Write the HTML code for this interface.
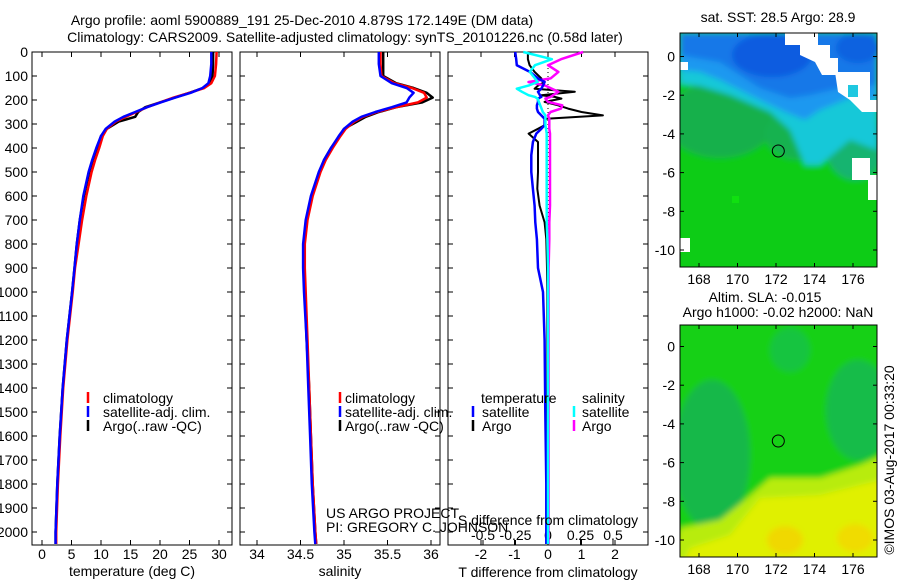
<!DOCTYPE html>
<html><head><meta charset="utf-8"><style>
html,body{margin:0;padding:0;background:#fff;}
svg{display:block;font-family:"Liberation Sans",sans-serif;}
text{font-size:14px;fill:#000;}
</style></head><body>
<svg id="fig" width="900" height="580" viewBox="0 0 900 580" xmlns="http://www.w3.org/2000/svg">
<defs>
<filter id="blur" x="-10%" y="-10%" width="120%" height="120%"><feGaussianBlur stdDeviation="3"/></filter>
<clipPath id="clipTop"><rect x="680" y="33" width="197" height="234"/></clipPath>
<clipPath id="clipBot"><rect x="680" y="325" width="197" height="232"/></clipPath>
</defs>
<text x="302" y="25" text-anchor="middle">Argo profile: aoml 5900889_191 25-Dec-2010 4.879S 172.149E (DM data)</text>
<text x="345" y="42" text-anchor="middle">Climatology: CARS2009. Satellite-adjusted climatology: synTS_20101226.nc (0.58d later)</text>

<g clip-path="url(#clipTop)">
<g filter="url(#blur)">
<rect x="670" y="25" width="220" height="250" fill="#10cc18"/>
<ellipse cx="720" cy="120" rx="55" ry="38" fill="#14b04c"/>
<ellipse cx="800" cy="135" rx="35" ry="25" fill="#14b250"/>
<ellipse cx="855" cy="145" rx="30" ry="35" fill="#14b470"/>
<polygon points="680,33 877,33 877,150 850,140 820,165 805,165 790,130 770,112 730,95 700,86 680,84" fill="#18c8d8"/>
<polygon points="680,33 877,33 877,100 850,98 820,110 805,120 785,112 760,100 720,80 700,72 680,70" fill="#1a98f0"/>
<polygon points="680,33 877,33 877,85 840,88 810,95 790,98 760,88 720,62 680,55" fill="#1478e8"/>
<ellipse cx="772" cy="55" rx="40" ry="22" fill="#0c5ce0"/>
<ellipse cx="858" cy="48" rx="22" ry="15" fill="#0c62e0"/>
</g>
<rect x="680" y="62" width="8" height="8" fill="#fff"/>
<polygon points="785,33 818,33 818,45 830,45 830,58 838,58 838,75 822,75 815,62 800,55 800,45 785,45" fill="#fff"/>
<polygon points="835,72 870,72 870,100 877,100 877,112 862,112 850,100 838,92" fill="#fff"/>
<rect x="848" y="85" width="10" height="12" fill="#20c8e0"/>
<polygon points="852,158 870,158 870,175 877,175 877,200 868,200 868,180 852,180" fill="#fff"/>
<rect x="680" y="238" width="10" height="14" fill="#fff"/>
<rect x="732" y="196" width="7" height="7" fill="#10e010"/>
</g>
<rect x="680" y="33" width="197" height="234" fill="none" stroke="#000"/>
<circle cx="778.3" cy="151" r="6" fill="none" stroke="#000"/>
<text x="778" y="22" text-anchor="middle">sat. SST: 28.5 Argo: 28.9</text>

<g clip-path="url(#clipBot)">
<g filter="url(#blur)">
<rect x="670" y="315" width="220" height="250" fill="#18d018"/>
<ellipse cx="712" cy="455" rx="38" ry="75" fill="#18b84a"/>
<ellipse cx="858" cy="410" rx="32" ry="50" fill="#18bc48"/>
<ellipse cx="790" cy="350" rx="20" ry="22" fill="#18c440"/>
<polygon points="680,528 720,520 745,500 770,478 820,478 860,465 890,452 890,570 670,570" fill="#b8ec10"/>
<polygon points="690,548 730,535 760,498 820,495 860,485 890,478 890,570 680,570" fill="#e0f000"/>
<ellipse cx="785" cy="540" rx="18" ry="14" fill="#f0d800"/>
<ellipse cx="855" cy="538" rx="18" ry="14" fill="#f0dc00"/>
</g>
</g>
<rect x="680" y="325" width="197" height="232" fill="none" stroke="#000"/>
<circle cx="778.3" cy="441" r="6" fill="none" stroke="#000"/>
<text x="765" y="302" text-anchor="middle">Altim. SLA: -0.015</text>
<text x="778" y="317" text-anchor="middle">Argo h1000: -0.02 h2000: NaN</text>
<text transform="translate(894,460) rotate(-90)" text-anchor="middle">©IMOS 03-Aug-2017 00:33:20</text>

<g id="plots"></g>
<g id="maps"></g>
</svg>
<script>
const depth = [0,50,100,130,150,170,190,210,230,250,270,290,320,350,400,450,500,600,700,800,900,1000,1200,1400,1600,1800,2000,2050];
const tempArgo = [29.0,29.0,28.9,28.5,27.3,25.0,22.5,20.0,17.5,16.3,15.8,13.0,11.0,10.0,9.4,8.6,8.0,7.1,6.4,5.9,5.5,5.1,4.2,3.5,3.0,2.6,2.3,2.3];
const tempClim = [29.6,29.5,29.3,28.7,27.5,25.0,22.3,20.0,17.8,16.0,14.2,12.5,11.0,10.3,9.7,9.0,8.4,7.5,6.8,6.2,5.6,5.2,4.3,3.6,3.1,2.7,2.4,2.4];
const tempSat = [28.7,28.7,28.5,28.2,27.2,25.2,22.6,20.1,17.8,15.8,13.8,12.3,10.8,10.0,9.2,8.5,7.9,7.0,6.4,5.9,5.5,5.1,4.2,3.5,3.0,2.6,2.3,2.3];
const salArgo = [35.45,35.45,35.45,35.6,35.8,35.95,36.02,35.9,35.6,35.4,35.25,35.15,35.0,34.95,34.85,34.77,34.72,34.63,34.57,34.54,34.54,34.55,34.57,34.6,34.62,34.64,34.67,34.68];
const salClim = [35.42,35.42,35.43,35.58,35.78,35.92,35.95,35.85,35.6,35.38,35.22,35.12,35.02,34.96,34.87,34.79,34.73,34.64,34.58,34.55,34.55,34.56,34.58,34.6,34.62,34.64,34.67,34.68];
const salSat = [35.40,35.40,35.42,35.55,35.72,35.8,35.75,35.72,35.55,35.36,35.2,35.1,35.0,34.94,34.85,34.77,34.71,34.62,34.56,34.53,34.53,34.54,34.57,34.59,34.61,34.63,34.66,34.67];
const dDepth = [0,30,55,83,110,125,140,153,166,180,187,194,208,222,236,250,264,278,292,305,320,340,375,430,500,570,640,710,780,900,1000,1200,1500,1800,2000,2050];
const dTsat = [-0.98,-0.95,-0.93,-0.54,-0.3,-0.1,-0.15,-0.2,-0.3,-0.24,-0.2,-0.3,-0.3,-0.33,-0.33,-0.3,-0.2,-0.1,-0.1,-0.1,-0.2,-0.35,-0.45,-0.5,-0.5,-0.45,-0.4,-0.38,-0.33,-0.3,-0.15,-0.1,-0.08,-0.05,-0.05,-0.05];
const dTargo = [-0.6,-0.6,-0.55,-0.4,-0.2,-0.1,-0.3,-0.4,0.8,-0.2,0.2,0.4,-0.1,0.3,0.6,1.0,1.64,-0.05,-0.1,-0.1,-0.3,-0.58,-0.3,-0.3,-0.3,-0.32,-0.25,-0.1,-0.05,-0.03,-0.02,-0.02,-0.02,-0.02,-0.02,-0.02];
const dSsat = [-0.19,0.03,-0.1,-0.14,-0.1,-0.08,-0.15,-0.24,-0.2,-0.15,-0.1,-0.08,-0.07,-0.06,-0.05,-0.04,-0.02,-0.02,-0.02,-0.02,-0.015,-0.01,-0.01,-0.01,-0.01,-0.01,-0.01,-0.01,-0.005,0,0,0,0,0,0,0];
const dSargo = [0.27,0.1,0.0,0.08,0.02,-0.15,-0.02,0.03,0.08,0.04,0.02,-0.02,0.0,0.11,0.1,0.02,0.0,0.01,0.01,0.01,0.01,0.015,0.015,0.015,0.015,0.015,0.015,0.01,0.01,0.005,0.005,0.005,0.005,0.005,0.005,0.005];
const depthTicks = [0,100,200,300,400,500,600,700,800,900,1000,1100,1200,1300,1400,1500,1600,1700,1800,1900,2000];
const tempTicks = [0,5,10,15,20,25,30];
const salTicks = [34,34.5,35,35.5,36];
const salTickLabels = ["34","34.5","35","35.5","36"];
const dTTicks = [-2,-1,0,1,2];
const dSTicks = [-0.5,-0.25,0,0.25,0.5];
const dSTickLabels = ["-0.5","-0.25","0","0.25","0.5"];
const lonTicks = [168,170,172,174,176];
const latTicks = [0,-2,-4,-6,-8,-10];

const NS='http://www.w3.org/2000/svg';
const g=document.getElementById('plots');
function el(tag,attrs,parent){const e=document.createElementNS(NS,tag);for(const k in attrs)e.setAttribute(k,attrs[k]);(parent||g).appendChild(e);return e;}
function txt(x,y,s,anchor,parent){const t=el('text',{x:x,y:y,'text-anchor':anchor||'start'},parent);t.textContent=s;return t;}
const yD=d=>52+d*0.24;
const xT=t=>42+t*5.9;
const xS=s=>257+(s-34)*87;
const xDT=v=>548+v*33.5;
const xDS=v=>548+v*130;
const Y0=52,Y1=545;

function frame(x0,x1,name){
  const r=el('rect',{x:x0,y:Y0,width:x1-x0,height:Y1-Y0,fill:'none',stroke:'#000'});
  
  
  depthTicks.forEach(d=>{el('line',{x1:x0,x2:x0+5,y1:yD(d),y2:yD(d),stroke:'#000'});el('line',{x1:x1,x2:x1-5,y1:yD(d),y2:yD(d),stroke:'#000'});});
}
function line(xs,ds,fx,color,w,name){
  const pts=xs.map((v,i)=>fx(v).toFixed(1)+','+yD(ds[i]).toFixed(1)).join(' ');
  const p=el('polyline',{points:pts,fill:'none',stroke:color,'stroke-width':w,'stroke-linejoin':'round'});
  
  
}
function xticks(ticks,labels,fx,ty,name){
  ticks.forEach((t,i)=>{const x=fx(t);el('line',{x1:x,x2:x,y1:Y1,y2:Y1-5,stroke:'#000'});el('line',{x1:x,x2:x,y1:Y0,y2:Y0+5,stroke:'#000'});
    const tt=txt(x,ty,labels[i],'middle');
    
    });
}
function legendBar(x,y,color){el('line',{x1:x,x2:x,y1:y-11,y2:y,stroke:color,'stroke-width':2.5});}

// panel 1
frame(32,232,'temperature-axes');
depthTicks.forEach(d=>{const t=txt(28,yD(d)+5,String(d),'end');
  
  });
xticks(tempTicks,tempTicks.map(String),xT,559,'temperature-tick-label');
line(tempArgo,depth,xT,'#000',2.5,'temperature-argo-line');
line(tempClim,depth,xT,'#f00',2.5,'temperature-climatology-line');
line(tempSat,depth,xT,'#00f',2.5,'temperature-satellite-line');
let t1=txt(132,576,'temperature (deg C)','middle');


legendBar(88,403,'#f00');legendBar(88,417,'#00f');legendBar(88,431,'#000');
txt(103,403,'climatology');txt(103,417,'satellite-adj. clim.');txt(103,431,'Argo(..raw -QC)');

// panel 2
frame(240,440,'salinity-axes');
xticks(salTicks,salTickLabels,xS,559,'salinity-tick-label');
line(salArgo,depth,xS,'#000',2.5,'salinity-argo-line');
line(salClim,depth,xS,'#f00',2.5,'salinity-climatology-line');
line(salSat,depth,xS,'#00f',2.5,'salinity-satellite-line');
let t2=txt(340,576,'salinity','middle');


legendBar(340,403,'#f00');legendBar(340,417,'#00f');legendBar(340,431,'#000');
txt(345,403,'climatology');txt(345,417,'satellite-adj. clim.');txt(345,431,'Argo(..raw -QC)');
txt(326,518,'US ARGO PROJECT');txt(326,532,'PI: GREGORY C. JOHNSON');

// panel 3
frame(448,648,'difference-axes');
el('line',{x1:548,x2:548,y1:Y0,y2:Y1,stroke:'#000','stroke-dasharray':'1,3'});
xticks(dTTicks,dTTicks.map(String),xDT,559,'t-difference-tick-label');
dSTicks.forEach((t,i)=>{const x=xDS(t);el('line',{x1:x,x2:x,y1:Y1,y2:Y1-5,stroke:'#000'});
  const tt=txt(x,540,dSTickLabels[i],'middle');
  
  });
line(dTargo,dDepth,xDT,'#000',2,'t-difference-argo-line');
line(dSargo,dDepth,xDS,'#f0f',2.5,'s-difference-argo-line');
line(dTsat,dDepth,xDT,'#00f',2.5,'t-difference-satellite-line');
line(dSsat,dDepth,xDS,'#0ff',2.5,'s-difference-satellite-line');
let t3=txt(548,577,'T difference from climatology','middle');


let t4=txt(548,525,'S difference from climatology','middle');


txt(481,403,'temperature');txt(582,403,'salinity');
legendBar(473,417,'#00f');legendBar(473,431,'#000');legendBar(574,417,'#0ff');legendBar(574,431,'#f0f');
txt(482,417,'satellite');txt(482,431,'Argo');txt(582,417,'satellite');txt(582,431,'Argo');

// map axes
const m=document.getElementById('maps');
const xL=l=>699+(l-168)*19.25;
function mapAxes(yTop,yBot,y0,name){
  const yL=l=>y0-l*19.35;
  lonTicks.forEach(l=>{const x=xL(l);el('line',{x1:x,x2:x,y1:yTop,y2:yTop+4,stroke:'#000'},m);el('line',{x1:x,x2:x,y1:yBot,y2:yBot-4,stroke:'#000'},m);
    const t=txt(x,yBot+17,String(l),'middle',m);
    
    });
  latTicks.forEach(l=>{const y=yL(l);el('line',{x1:680,x2:684,y1:y,y2:y,stroke:'#000'},m);el('line',{x1:877,x2:873,y1:y,y2:y,stroke:'#000'},m);
    const t=txt(675,y+5,String(l),'end',m);
    
    });
}
mapAxes(33,267,56.5,'sst-map');
mapAxes(325,557,346.5,'sla-map');
</script>
</body></html>
